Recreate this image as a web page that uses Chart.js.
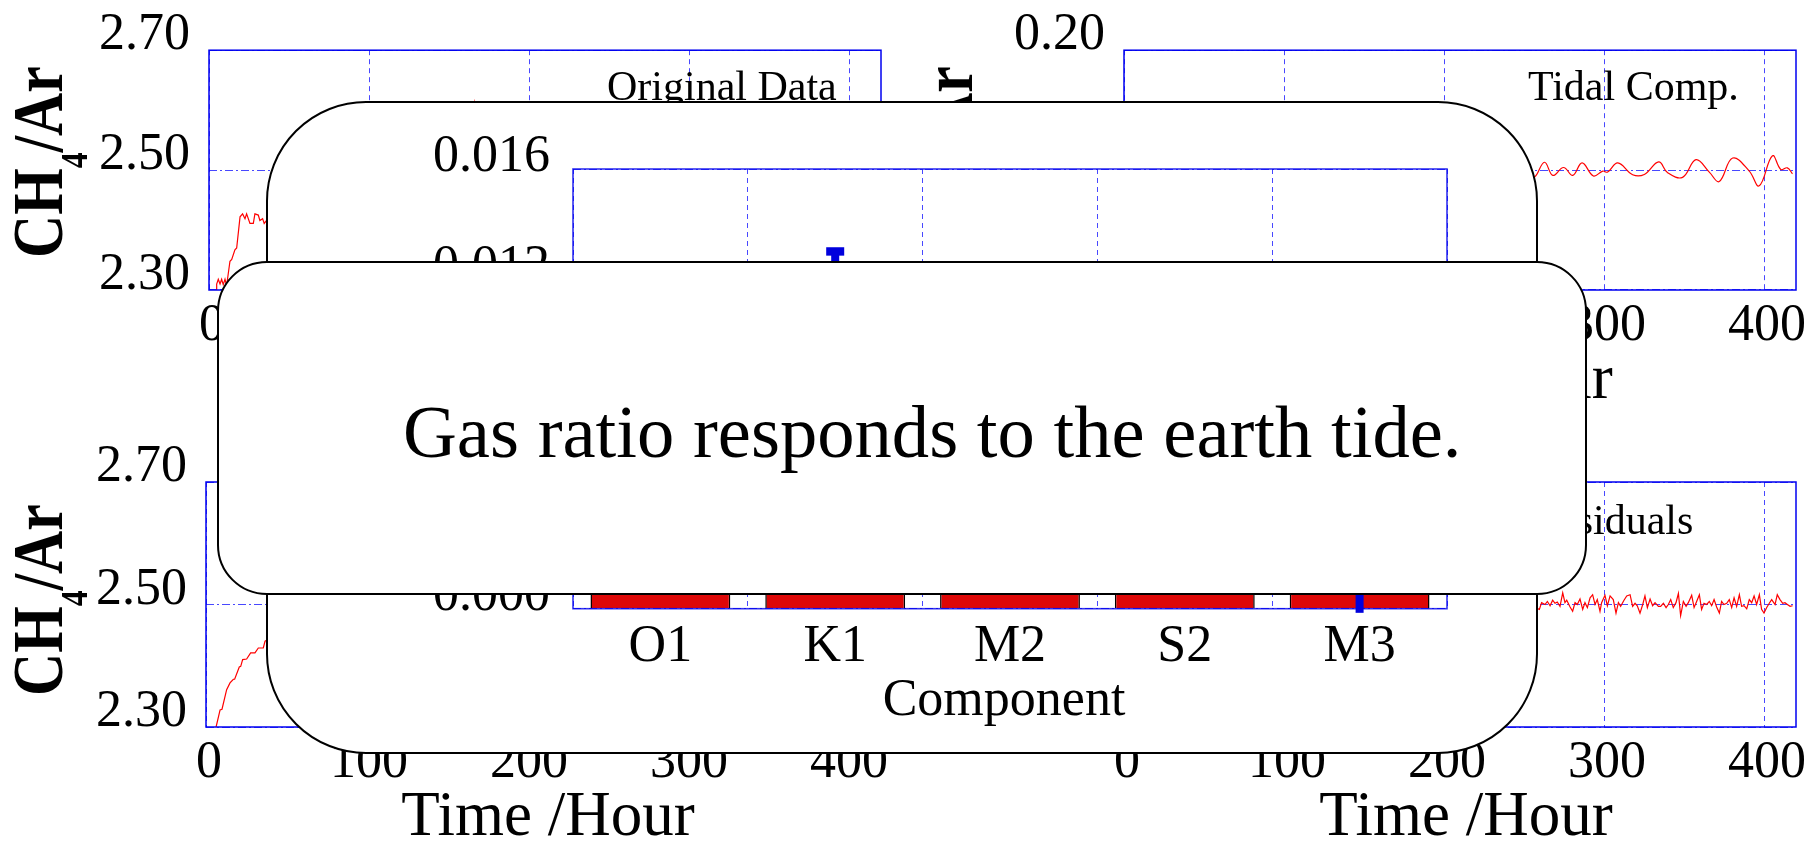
<!DOCTYPE html>
<html>
<head>
<meta charset="utf-8">
<script src="https://cdn.jsdelivr.net/npm/chart.js@4.4.1/dist/chart.umd.min.js"></script>
<style>
  html, body { margin: 0; padding: 0; background: #fff; }
  body { width: 1818px; height: 842px; position: relative; overflow: hidden; font-family: "Liberation Serif", "Times New Roman", serif; }
  canvas.layer { position: absolute; left: 0; top: 0; }
  .card { position: absolute; background: #fff; border: 2px solid #000; box-sizing: border-box; }
  #cardBars { left: 266px; top: 101px; width: 1272px; height: 653px; border-radius: 100px; z-index: 5; }
  #cardNote { left: 217px; top: 261px; width: 1370px; height: 334px; border-radius: 50px; z-index: 7; }
  #note { position: absolute; left: 403px; top: 395px; font-size: 74.6px; line-height: 74px; white-space: nowrap; color: #000; z-index: 8; }
</style>
</head>
<body>
<canvas id="pTL" class="layer" width="1818" height="842" style="z-index:1"></canvas>
<canvas id="pTR" class="layer" width="1818" height="842" style="z-index:2"></canvas>
<canvas id="pBL" class="layer" width="1818" height="842" style="z-index:3"></canvas>
<canvas id="pBR" class="layer" width="1818" height="842" style="z-index:4"></canvas>
<div id="cardBars" class="card"></div>
<canvas id="cBars" class="layer" width="1818" height="842" style="z-index:6"></canvas>
<div id="cardNote" class="card"></div>
<div id="note">Gas ratio responds to the earth tide.</div>
<script>
// ---- CH4/Ar record: original series (hours, ratio) ----
const originalHours = [4.4, 4.8, 5.8, 6.9, 7.9, 8.9, 10.0, 11.0, 13.1, 14.2, 16.2, 17.3, 19.4, 21.0, 22.5, 23.5,
  25.6, 27.7, 28.7, 30.8, 31.8, 33.5, 34.5, 36.0, 38, 44, 50, 56, 62, 68, 74, 80, 88, 96, 104, 112, 120, 128,
  136, 144, 152, 158, 163, 166, 169, 174, 182, 190, 198, 206, 214, 222, 230, 238, 246, 254, 262, 270, 278,
  286, 294, 302, 310, 318, 326, 334, 342, 350, 358, 366, 374, 382, 390, 398, 406, 414, 420];
const originalValues = [2.300, 2.310, 2.318, 2.310, 2.318, 2.309, 2.318, 2.307, 2.348, 2.351, 2.367, 2.370,
  2.422, 2.427, 2.419, 2.427, 2.411, 2.411, 2.427, 2.425, 2.416, 2.419, 2.411, 2.416, 2.43, 2.44, 2.45, 2.44,
  2.46, 2.47, 2.46, 2.48, 2.47, 2.49, 2.48, 2.50, 2.49, 2.51, 2.50, 2.52, 2.51, 2.53, 2.55, 2.611, 2.54, 2.52,
  2.53, 2.52, 2.54, 2.53, 2.52, 2.54, 2.53, 2.55, 2.54, 2.53, 2.55, 2.54, 2.53, 2.55, 2.54, 2.56, 2.55, 2.54,
  2.56, 2.55, 2.54, 2.56, 2.55, 2.57, 2.56, 2.55, 2.57, 2.56, 2.55, 2.57, 2.56];

// ---- tidal component ----
const tidalHours = [0, 6, 12, 18, 24, 30, 36, 42, 48, 54, 60, 66, 72, 78, 84, 90, 96, 102, 108, 114, 120, 126,
  132, 138, 144, 150, 156, 162, 168, 174, 180, 186, 192, 198, 204, 210, 216, 222, 228, 234, 240, 246,
  253.4, 256.6, 262.8, 268.0, 274.7, 280.5, 286.3, 293.4, 299.2, 302.3, 308.6, 317.9, 325.2, 334.2, 339.8,
  349.1, 357.5, 365.8, 372.0, 380.4, 390.8, 397.0, 405.3, 410.5, 414.6, 417.8];
const tidalValues = [0.004, -0.010, 0.012, -0.008, 0.010, -0.012, 0.009, -0.006, 0.011, -0.010, 0.008, -0.009,
  0.012, -0.007, 0.010, -0.011, 0.009, -0.008, 0.013, -0.010, 0.007, -0.009, 0.011, -0.012, 0.010, -0.006,
  0.009, -0.010, 0.012, -0.008, 0.011, -0.009, 0.008, -0.011, 0.010, -0.007, 0.012, -0.010, 0.009, -0.008,
  0.011, -0.005,
  -0.0016, -0.0115, 0.0131, -0.0088, 0.0043, -0.0088, 0.0120, -0.0098, -0.0016, -0.0033, 0.0120, -0.0077,
  -0.0072, 0.0136, -0.0044, -0.0121, 0.0174, -0.0033, -0.0192, 0.0201, -0.0016, -0.0262, 0.0239, 0.0010,
  0.0038, -0.0061];

// ---- trend ----
const trendHours = [6.3, 8.8, 10.0, 12.9, 15.0, 17.1, 17.9, 20.8, 21.7, 22.9, 25.4, 27.9, 30.6, 32.7, 35.8,
  36.9, 40, 46, 52, 60, 70, 80, 90, 100, 115, 130, 145, 160, 180, 200, 220, 240, 260, 280, 300, 320, 340,
  360, 380, 400, 420];
const trendValues = [2.300, 2.328, 2.329, 2.361, 2.372, 2.378, 2.378, 2.398, 2.399, 2.410, 2.411, 2.421, 2.421,
  2.429, 2.429, 2.440, 2.445, 2.452, 2.460, 2.466, 2.474, 2.482, 2.490, 2.496, 2.502, 2.510, 2.516, 2.521,
  2.526, 2.530, 2.534, 2.537, 2.540, 2.543, 2.546, 2.549, 2.551, 2.553, 2.555, 2.557, 2.559];

// ---- residuals ----
const residualHours = [0, 8, 16, 24, 32, 40, 48, 56, 64, 72, 80, 88, 96, 104, 112, 120, 128, 136, 144, 152,
  160, 168, 176, 184, 192, 200, 208, 216, 224, 232, 240, 248, 256,
  259.6, 261.0, 263.1, 264.6, 266.3, 267.9, 269.4, 270.8, 272.5, 274.2, 275.6, 276.7, 278.8, 280.4, 281.9,
  283.3, 285.0, 286.7, 288.1, 289.6, 291.3, 292.9, 294.4, 295.8, 297.5, 298.5, 300.6, 302.1, 303.8, 305.8,
  307.5, 309.0, 310.4, 312.5, 314.2, 316.3, 317.9, 319.4, 320.8, 322.5, 324.2, 325.6, 327.1, 328.8, 330.4,
  331.9, 334.0, 335.4, 337.1, 338.8, 340.2, 341.7, 343.3, 345.0, 346.5, 347.9, 349.6, 351.3, 352.7, 354.8,
  356.3, 357.9, 359.6, 361.0, 362.5, 364.2, 365.8, 367.3, 368.8, 370.4, 372.1, 373.5, 375.0, 376.7, 378.3,
  379.8, 381.3, 382.9, 384.6, 386.0, 387.5, 389.2, 390.8, 392.3, 393.8, 395.4, 397.1, 398.5, 400.0, 401.7,
  403.3, 404.8, 406.9, 408.3, 410.0, 411.7, 413.1, 414.6, 416.3, 417.9];
const residualValues = [0.004, -0.006, 0.009, -0.003, 0.007, -0.010, 0.002, 0.011, -0.005, 0.006, -0.012,
  0.008, 0.001, -0.007, 0.013, -0.004, 0.005, -0.009, 0.010, -0.002, 0.006, -0.011, 0.003, 0.009, -0.006,
  0.012, -0.008, 0.004, -0.003, 0.010, -0.007, 0.005, -0.004,
  -0.008, 0.003, 0.000, 0.005, -0.002, 0.007, 0.002, 0.004, -0.003, 0.019, 0.003, 0.007, -0.004, -0.011,
  0.003, 0.000, 0.009, -0.008, 0.003, -0.005, 0.011, 0.016, 0.000, 0.008, -0.011, 0.003, 0.015, -0.002,
  0.014, 0.008, -0.014, 0.003, -0.003, 0.007, 0.014, 0.016, -0.003, 0.002, -0.002, -0.014, 0.000, 0.014,
  -0.005, 0.009, -0.002, 0.003, -0.003, -0.003, 0.002, -0.005, 0.000, 0.008, -0.005, 0.003, 0.018, -0.018,
  0.005, -0.003, 0.003, 0.015, -0.005, 0.005, 0.016, -0.008, 0.002, 0.000, 0.005, -0.002, 0.008, -0.004,
  -0.014, 0.005, 0.000, 0.002, 0.008, -0.005, 0.011, -0.003, 0.016, -0.003, -0.002, -0.007, 0.008, 0.003,
  0.014, 0.000, 0.016, -0.008, -0.014, -0.005, 0.002, 0.008, 0.000, 0.016, 0.008, 0.002, 0.003, 0.000,
  -0.003, -0.002];

// ---- tidal constituent amplitudes ----
const components = ['O1', 'K1', 'M2', 'S2', 'M3'];
const amplitudes = [0.0062, 0.0098, 0.0045, 0.0032, 0.0006];
const amplitudeErrors = [0.0018, 0.0032, 0.0012, 0.0010, 0.00075];

// ---- axis ticks ----
const hourTicks = [0, 100, 200, 300, 400];
const ratioTicks = [2.30, 2.50, 2.70];
const tideTicks = [-0.20, 0.00, 0.20];
const amplitudeTicks = [0.000, 0.004, 0.008, 0.012, 0.016];

Chart.defaults.font.family = '"Liberation Serif", "Times New Roman", serif';
Chart.defaults.color = '#000';

const W = 1818, H = 842;
const FRAME = '#0000f0';
const GRID = 'rgba(40,40,255,0.85)';

// frame around the plot area plus the free-standing texts of a panel
const panelDecor = {
  id: 'panelDecor',
  afterDatasetsDraw(chart, args, o) {
    const ctx = chart.ctx, a = chart.chartArea;
    ctx.save();
    ctx.strokeStyle = o.frameColor || FRAME;
    ctx.lineWidth = o.frameWidth || 1.5;
    ctx.strokeRect(a.left, a.top, a.right - a.left, a.bottom - a.top);
    ctx.restore();
  },
  afterDraw(chart, args, o) {
    const ctx = chart.ctx;
    ctx.save();
    ctx.fillStyle = '#000';
    ctx.textBaseline = 'alphabetic';
    if (o.title) {
      ctx.font = '42px "Liberation Serif"';
      ctx.textAlign = 'left';
      ctx.fillText(o.title, o.titleX, o.titleY);
    }
    if (o.xTitle) {
      ctx.font = '63px "Liberation Serif"';
      ctx.textAlign = 'center';
      ctx.fillText(o.xTitle, o.xTitleX, o.xTitleY);
    }
    if (o.yTitle) {
      // rotated CH4/Ar with a subscript digit, set in a narrow bold face
      ctx.translate(o.yTitleX, o.yTitleY);
      ctx.rotate(-Math.PI / 2);
      ctx.scale(0.83, 1);
      ctx.textAlign = 'left';
      let x = 0;
      ctx.font = 'bold 72px "Liberation Serif"';
      ctx.fillText('CH', x, 0); x += ctx.measureText('CH').width;
      ctx.font = 'bold 38px "Liberation Serif"';
      ctx.fillText('4', x, 25); x += ctx.measureText('4').width;
      ctx.font = 'bold 72px "Liberation Serif"';
      ctx.fillText('/Ar', x, 0);
    }
    ctx.restore();
  }
};

function makePanel(id, p) {
  const yw = 150, xh = 100;
  return new Chart(document.getElementById(id), {
    type: 'line',
    data: {
      datasets: [{
        data: p.hours.map((h, i) => ({ x: h, y: p.values[i] })),
        borderColor: '#ff0000',
        borderWidth: 1.2,
        pointRadius: 0,
        tension: p.tension || 0,
        fill: false
      }]
    },
    options: {
      responsive: false,
      animation: false,
      events: [],
      layout: { padding: { left: p.l - yw, right: W - p.r, top: p.t, bottom: H - p.b - xh } },
      plugins: {
        legend: { display: false },
        tooltip: { enabled: false },
        panelDecor: {
          title: p.title, titleX: p.titleX, titleY: p.titleY,
          xTitle: 'Time /Hour', xTitleX: (p.l + p.r) / 2 + 6, xTitleY: p.b + 108,
          yTitle: true, yTitleX: p.yTitleX || p.l - 147, yTitleY: p.t + 214
        }
      },
      scales: {
        x: {
          type: 'linear', min: 0, max: 420,
          afterFit: s => { s.height = xh; },
          afterBuildTicks: s => { s.ticks = hourTicks.map(v => ({ value: v })); },
          ticks: { padding: 5, labelOffset: 3, font: { size: 52 }, color: '#000', maxRotation: 0,
                   callback: v => String(v) },
          grid: { color: GRID, lineWidth: 1, drawTicks: false },
          border: { display: false, dash: [5, 4] }
        },
        y: {
          type: 'linear', min: p.yTicks[0], max: p.yTicks[p.yTicks.length - 1],
          afterFit: s => { s.width = yw; },
          afterBuildTicks: s => { s.ticks = p.yTicks.map(v => ({ value: v })); },
          ticks: { padding: 19, labelOffset: -14.5, font: { size: 52 }, color: '#000',
                   callback: v => Number(v).toFixed(2) },
          grid: { color: GRID, lineWidth: 1, drawTicks: false },
          border: { display: false, dash: [8, 3, 2, 3] }
        }
      }
    },
    plugins: [panelDecor]
  });
}

makePanel('pTL', { l: 209, r: 881, t: 44, b: 290, hours: originalHours, values: originalValues,
  yTicks: ratioTicks, title: 'Original Data', titleX: 607, titleY: 100 });
makePanel('pTR', { l: 1124, r: 1796, t: 44, b: 290, hours: tidalHours, values: tidalValues, tension: 0.4,
  yTicks: tideTicks, title: 'Tidal Comp.', titleX: 1528, titleY: 100, yTitleX: 972 });
makePanel('pBL', { l: 206, r: 878, t: 482, b: 727, hours: trendHours, values: trendValues,
  yTicks: ratioTicks, title: 'Trend', titleX: 640, titleY: 538, yTitleX: 62 });
makePanel('pBR', { l: 1124, r: 1796, t: 482, b: 727, hours: residualHours, values: residualValues,
  yTicks: tideTicks, title: 'Residuals', titleX: 1530, titleY: 534, yTitleX: 972 });

// error bars: stem through value ± error, cap on the upper end
const errorBars = {
  id: 'errorBars',
  afterDatasetsDraw(chart) {
    const ctx = chart.ctx, meta = chart.getDatasetMeta(0), ys = chart.scales.y;
    const a = chart.chartArea;
    ctx.save();
    ctx.strokeStyle = 'rgba(0,0,235,0.8)';
    ctx.lineWidth = 1.6;
    ctx.strokeRect(a.left, a.top, a.right - a.left, a.bottom - a.top);
    ctx.fillStyle = '#0000dd';
    meta.data.forEach((bar, i) => {
      const top = ys.getPixelForValue(amplitudes[i] + amplitudeErrors[i]);
      const bot = ys.getPixelForValue(amplitudes[i] - amplitudeErrors[i]);
      ctx.fillRect(bar.x - 4, top, 8, bot - top);
      ctx.fillRect(bar.x - 9, top - 4.2, 18, 8.4);
    });
    ctx.restore();
  },
  afterDraw(chart) {
    const ctx = chart.ctx;
    ctx.save();
    ctx.fillStyle = '#000';
    ctx.font = '52px "Liberation Serif"';
    ctx.textAlign = 'center';
    ctx.textBaseline = 'alphabetic';
    ctx.fillText('Component', 1004, 715);
    ctx.restore();
  }
};

(function () {
  const l = 573, r = 1447, t = 169, b = 608.7, yw = 173, xh = 150;
  new Chart(document.getElementById('cBars'), {
    type: 'bar',
    data: {
      labels: components,
      datasets: [{
        data: amplitudes,
        backgroundColor: '#dd0707',
        borderColor: '#000',
        borderWidth: 1.5,
        categoryPercentage: 1,
        barPercentage: 0.8
      }]
    },
    options: {
      responsive: false,
      animation: false,
      events: [],
      layout: { padding: { left: l - yw, right: W - r, top: t, bottom: H - b - xh } },
      plugins: { legend: { display: false }, tooltip: { enabled: false } },
      scales: {
        x: {
          afterFit: s => { s.height = xh; },
          ticks: { padding: 7, font: { size: 52 }, color: '#000', maxRotation: 0 },
          grid: { color: GRID, lineWidth: 1, drawTicks: false, offset: true },
          border: { display: false, dash: [5, 4] }
        },
        y: {
          min: 0, max: 0.016,
          afterFit: s => { s.width = yw; },
          afterBuildTicks: s => { s.ticks = amplitudeTicks.map(v => ({ value: v })); },
          ticks: { padding: 23, labelOffset: -12, font: { size: 52 }, color: '#000',
                   callback: v => Number(v).toFixed(3) },
          grid: { color: GRID, lineWidth: 1, drawTicks: false },
          border: { display: false, dash: [8, 3, 2, 3] }
        }
      }
    },
    plugins: [errorBars]
  });
})();
</script>
</body>
</html>
